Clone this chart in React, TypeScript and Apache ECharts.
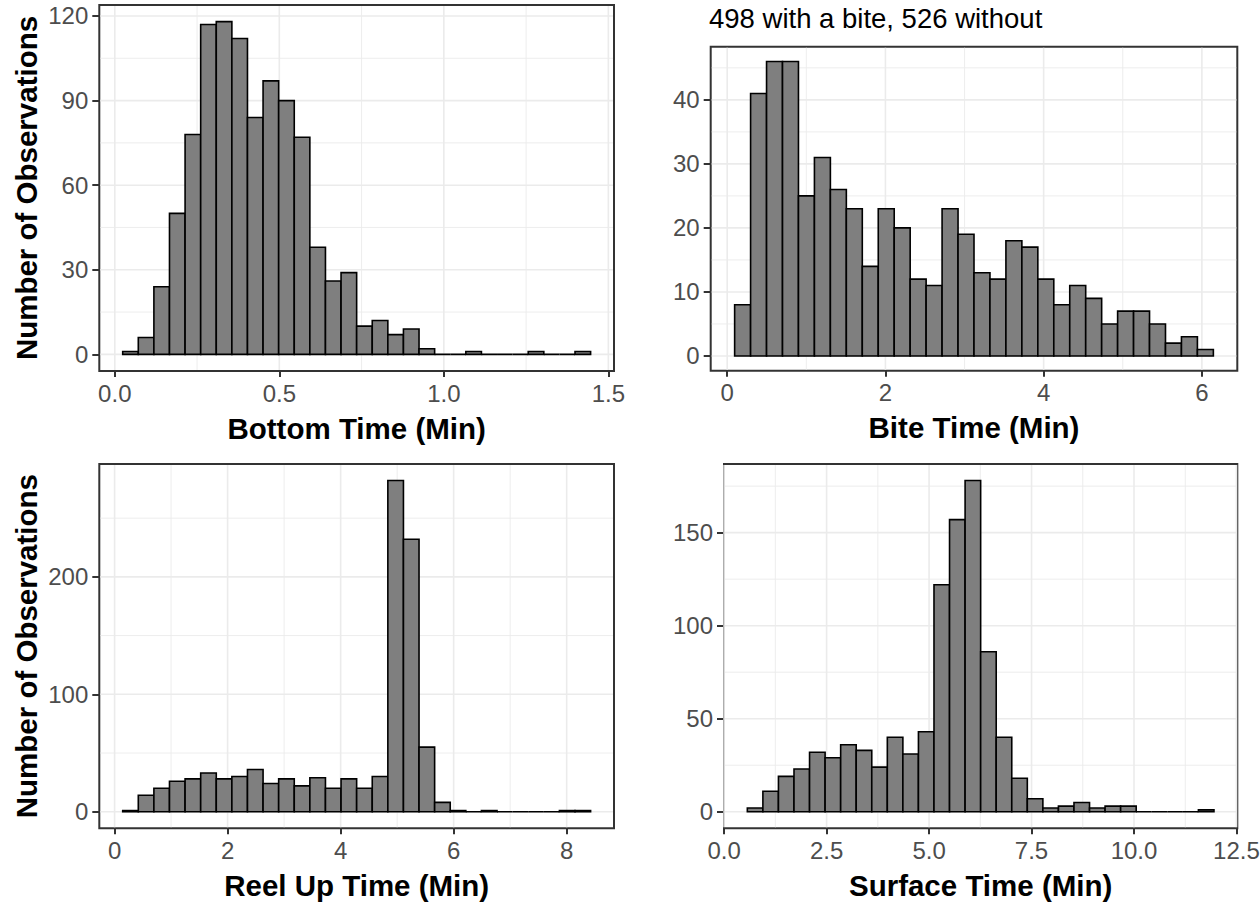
import React, { useEffect, useRef } from "react";
import * as echarts from "echarts";

const FONT = "'Liberation Sans', Arial, Helvetica, sans-serif";

// ---- Bottom Time ----
const bottomBinStart = 0.024;
const bottomBinWidth = 0.0474;
const bottomCounts = [1, 6, 24, 50, 78, 117, 118, 112, 84, 97, 90, 77, 38, 26, 29, 10, 12, 7, 9, 2, 0, 0, 1, 0, 0, 0, 1, 0, 0, 1];
const bottomXTicks = [0, 0.5, 1.0, 1.5];
const bottomXMinor = [0.25, 0.75, 1.25];
const bottomYTicks = [0, 30, 60, 90, 120];
const bottomYMinor = [15, 45, 75, 105];

// ---- Bite Time ----
const biteBinStart = 0.094;
const biteBinWidth = 0.2017;
const biteCounts = [8, 41, 46, 46, 25, 31, 26, 23, 14, 23, 20, 12, 11, 23, 19, 13, 12, 18, 17, 12, 8, 11, 9, 5, 7, 7, 5, 2, 3, 1];
const biteXTicks = [0, 2, 4, 6];
const biteXMinor = [1, 3, 5];
const biteYTicks = [0, 10, 20, 30, 40];
const biteYMinor = [5, 15, 25, 35, 45];

// ---- Reel Up Time ----
const reelBinStart = 0.1435;
const reelBinWidth = 0.276;
const reelCounts = [1, 14, 20, 26, 28, 33, 28, 30, 36, 24, 28, 22, 29, 20, 28, 20, 30, 282, 232, 55, 8, 1, 0, 1, 0, 0, 0, 0, 1, 1];
const reelXTicks = [0, 2, 4, 6, 8];
const reelXMinor = [1, 3, 5, 7];
const reelYTicks = [0, 100, 200];
const reelYMinor = [50, 150, 250];

// ---- Surface Time ----
const surfaceBinStart = 0.566;
const surfaceBinWidth = 0.3795;
const surfaceCounts = [2, 11, 19, 23, 32, 29, 36, 33, 24, 40, 31, 43, 122, 157, 178, 86, 40, 18, 7, 2, 3, 5, 2, 3, 3, 0, 0, 0, 0, 1];
const surfaceXTicks = [0, 2.5, 5, 7.5, 10, 12.5];
const surfaceXMinor = [1.25, 3.75, 6.25, 8.75, 11.25];
const surfaceYTicks = [0, 50, 100, 150];
const surfaceYMinor = [25, 75, 125, 175];

const titleText = "498 with a bite, 526 without";
const yTitle = "Number of Observations";

const panels = [
  { start: bottomBinStart, width: bottomBinWidth, counts: bottomCounts, xTicks: bottomXTicks, xMinor: bottomXMinor, yTicks: bottomYTicks, yMinor: bottomYMinor, xName: "Bottom Time (Min)", yName: yTitle, dec: 1, rect: { left: 99.3, top: 5, width: 514.7, height: 366 } },
  { start: biteBinStart, width: biteBinWidth, counts: biteCounts, xTicks: biteXTicks, xMinor: biteXMinor, yTicks: biteYTicks, yMinor: biteYMinor, xName: "Bite Time (Min)", yName: "", dec: 0, rect: { left: 710.7, top: 46.7, width: 526.6, height: 324 } },
  { start: reelBinStart, width: reelBinWidth, counts: reelCounts, xTicks: reelXTicks, xMinor: reelXMinor, yTicks: reelYTicks, yMinor: reelYMinor, xName: "Reel Up Time (Min)", yName: yTitle, dec: 0, rect: { left: 99.3, top: 464, width: 514.7, height: 364.3 } },
  { start: surfaceBinStart, width: surfaceBinWidth, counts: surfaceCounts, xTicks: surfaceXTicks, xMinor: surfaceXMinor, yTicks: surfaceYTicks, yMinor: surfaceYMinor, xName: "Surface Time (Min)", yName: "", dec: 1, rect: { left: 724, top: 464, width: 513.3, height: 364.3 } },
];

function buildOption() {
  const grid: any[] = [];
  const xAxis: any[] = [];
  const yAxis: any[] = [];
  const series: any[] = [];

  panels.forEach((p, i) => {
    const x0 = p.start;
    const x1 = p.start + p.counts.length * p.width;
    const span = x1 - x0;
    const xmin = x0 - 0.05 * span;
    const xmax = x1 + 0.05 * span;
    const ymaxData = Math.max(...p.counts);
    const ymin = -0.05 * ymaxData;
    const ymax = 1.05 * ymaxData;

    grid.push({
      left: p.rect.left,
      top: p.rect.top,
      width: p.rect.width,
      height: p.rect.height,
      show: true,
      backgroundColor: "#ffffff",
      borderColor: "#333333",
      borderWidth: 2,
      containLabel: false,
      outerBoundsMode: "none",
    });

    xAxis.push({
      gridIndex: i,
      type: "value",
      min: xmin,
      max: xmax,
      axisLine: { show: false, onZero: false },
      axisTick: { show: true, length: 6, customValues: p.xTicks, lineStyle: { color: "#333333", width: 2 } },
      axisLabel: {
        customValues: p.xTicks,
        formatter: (v: number) => v.toFixed(p.dec),
        color: "#4D4D4D",
        fontSize: 24,
        fontFamily: FONT,
        margin: 10,
        hideOverlap: false,
      },
      splitLine: { show: false },
      name: p.xName,
      nameLocation: "middle",
      nameGap: 42,
      nameTextStyle: { fontSize: 29.5, fontWeight: "bold", color: "#000000", fontFamily: FONT },
    });

    yAxis.push({
      gridIndex: i,
      type: "value",
      min: ymin,
      max: ymax,
      axisLine: { show: false, onZero: false },
      axisTick: { show: true, length: 7, customValues: p.yTicks, lineStyle: { color: "#333333", width: 2 } },
      axisLabel: {
        customValues: p.yTicks,
        formatter: (v: number) => String(v),
        color: "#4D4D4D",
        fontSize: 24,
        fontFamily: FONT,
        margin: 11,
        hideOverlap: false,
      },
      splitLine: { show: false },
      name: p.yName,
      nameLocation: "middle",
      nameRotate: 90,
      nameGap: 58,
      nameTextStyle: { fontSize: 29.5, fontWeight: "bold", color: "#000000", fontFamily: FONT },
    });

    const gridData: number[][] = [];
    p.yMinor.forEach((v) => gridData.push([0, v, 0]));
    p.xMinor.forEach((v) => gridData.push([1, v, 0]));
    p.yTicks.forEach((v) => gridData.push([0, v, 1]));
    p.xTicks.forEach((v) => gridData.push([1, v, 1]));

    series.push({
      type: "custom",
      xAxisIndex: i,
      yAxisIndex: i,
      silent: true,
      z: 1,
      data: gridData,
      renderItem: (params: any, api: any) => {
        const cs = params.coordSys;
        const orient = api.value(0);
        const v = api.value(1);
        const major = api.value(2);
        const style = { stroke: "#EBEBEB", lineWidth: major ? 1.6 : 0.9 };
        if (orient === 0) {
          const y = api.coord([xmin, v])[1];
          return { type: "line", shape: { x1: cs.x + 1, y1: y, x2: cs.x + cs.width - 1, y2: y }, style };
        }
        const x = api.coord([v, ymin])[0];
        return { type: "line", shape: { x1: x, y1: cs.y + 1, x2: x, y2: cs.y + cs.height - 1 }, style };
      },
    });

    const barData = p.counts.map((c, k) => [p.start + k * p.width, p.start + (k + 1) * p.width, c]);
    series.push({
      type: "custom",
      xAxisIndex: i,
      yAxisIndex: i,
      z: 2,
      encode: { x: [0, 1], y: 2 },
      data: barData,
      renderItem: (params: any, api: any) => {
        const a = api.coord([api.value(0), api.value(2)]);
        const b = api.coord([api.value(1), 0]);
        return {
          type: "polygon",
          shape: { points: [[a[0], b[1]], [a[0], a[1]], [b[0], a[1]], [b[0], b[1]]] },
          style: { fill: "#7F7F7F", stroke: "#000000", lineWidth: 1.6 },
        };
      },
    });
  });

  return {
    animation: false,
    backgroundColor: "#ffffff",
    textStyle: { fontFamily: FONT },
    title: {
      text: titleText,
      left: 709,
      top: 4.5,
      padding: 0,
      textStyle: { fontSize: 27.5, fontWeight: "normal", color: "#000000", fontFamily: FONT },
    },
    grid,
    xAxis,
    yAxis,
    series,
  };
}

export default function App() {
  const ref = useRef<HTMLDivElement>(null);
  useEffect(() => {
    if (!ref.current) return;
    const chart = echarts.init(ref.current, undefined, { renderer: "svg" });
    chart.setOption(buildOption() as any);
    return () => chart.dispose();
  }, []);
  return <div ref={ref} style={{ position: "absolute", left: 0, top: 0, width: 1260, height: 905 }} />;
}
